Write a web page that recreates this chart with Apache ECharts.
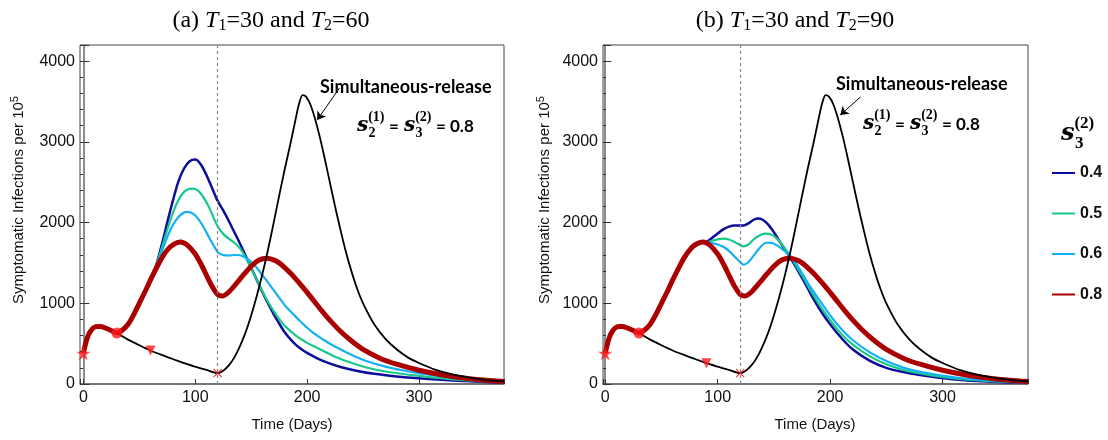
<!DOCTYPE html>
<html><head><meta charset="utf-8">
<script src="https://cdn.jsdelivr.net/npm/echarts@6/dist/echarts.min.js"></script>
<style>html,body{margin:0;padding:0;background:#fff}#c{width:1108px;height:440px}</style>
</head><body><div id="c"></div>
<script>
// ---- data (time in days, symptomatic infections per 1e5) ----
const legendNames = ['0.4', '0.5', '0.6', '0.8'];
const xTicks = [0, 100, 200, 300];
const yTicks = [0, 1000, 2000, 3000, 4000];
// s = 0.8 curve (identical in both panels)
const red08 = [[0,380],[2,500],[4,590],[6,645],[9,695],[12,712],[15,712],[20,692],[25,662],[30,632],[35,670],[40,740],[45,860],[50,1000],[55,1140],[60,1290],[65,1430],[70,1560],[75,1660],[80,1725],[87,1760],[93,1720],[100,1610],[105,1490],[110,1350],[115,1210],[120,1110],[124,1090],[130,1140],[140,1300],[150,1460],[157,1535],[164,1558],[170,1538],[175,1500],[180,1443],[185,1375],[190,1300],[195,1220],[200,1135],[205,1048],[210,960],[215,875],[220,795],[230,650],[240,530],[250,430],[265,320],[280,245],[300,170],[320,115],[340,75],[360,46],[376,30]];
// simultaneous release
const simRelease = [[30,632],[40,550],[50,480],[60,415],[70,360],[80,310],[90,258],[100,215],[110,175],[120,135],[125,165],[130,230],[135,330],[140,470],[145,640],[150,850],[155,1090],[160,1360],[165,1660],[170,1990],[175,2330],[180,2660],[185,2970],[190,3300],[193,3480],[196,3580],[199,3560],[203,3460],[207,3290],[211,3080],[215,2840],[220,2520],[225,2200],[230,1900],[235,1620],[240,1380],[245,1170],[250,1000],[260,740],[270,560],[280,430],[290,330],[300,260],[315,175],[330,118],[345,80],[360,52],[376,33]];
// panel (a) T1=30, T2=60
const a04 = [[60,1290],[65,1470],[70,1720],[75,2000],[80,2270],[85,2510],[90,2670],[95,2760],[100,2780],[105,2720],[110,2590],[115,2430],[120,2270],[125,2150],[130,2020],[135,1880],[140,1740],[145,1590],[150,1440],[155,1290],[160,1140],[165,1000],[170,870],[175,750],[180,640],[185,555],[190,485],[195,430],[200,385],[210,312],[220,255],[230,210],[245,162],[260,126],[280,94],[300,70],[330,43],[376,16]];
const a05 = [[60,1290],[65,1465],[70,1680],[75,1910],[80,2120],[85,2280],[90,2380],[95,2418],[98,2420],[103,2390],[108,2300],[113,2170],[118,2010],[121,1930],[125,1860],[130,1800],[135,1750],[140,1680],[145,1570],[150,1430],[155,1290],[160,1150],[165,1020],[170,905],[175,805],[180,720],[190,600],[200,510],[210,440],[224,345],[240,260],[253,205],[270,155],[300,100],[330,58],[376,21]];
const a06 = [[60,1290],[65,1455],[70,1640],[75,1820],[80,1970],[85,2070],[90,2125],[93,2133],[98,2110],[103,2040],[108,1930],[113,1800],[118,1680],[121,1620],[125,1598],[130,1592],[135,1598],[140,1595],[145,1565],[150,1515],[155,1440],[160,1350],[165,1260],[170,1165],[175,1070],[181,960],[188,860],[194,775],[205,640],[215,545],[224,470],[240,360],[253,285],[270,215],[285,170],[301,132],[330,78],[376,22]];
// panel (b) T1=30, T2=90
const b04 = [[90,1755],[95,1810],[100,1865],[105,1915],[110,1950],[115,1965],[120,1965],[124,1968],[128,1995],[132,2035],[136,2050],[140,2035],[145,1975],[150,1880],[155,1770],[160,1660],[164,1580],[170,1440],[176,1290],[183,1110],[191,920],[200,740],[210,570],[220,430],[235,290],[250,200],[265,148],[280,112],[309,60],[340,32],[376,14]];
const b05 = [[90,1755],[95,1775],[100,1792],[105,1800],[110,1790],[115,1760],[120,1720],[123,1705],[127,1725],[132,1790],[137,1840],[142,1862],[147,1855],[152,1810],[158,1715],[164,1596],[170,1460],[176,1320],[183,1150],[191,970],[200,790],[210,620],[220,490],[235,345],[250,245],[265,175],[280,132],[309,72],[340,38],[376,16]];
const b06 = [[90,1755],[95,1745],[100,1728],[105,1700],[110,1650],[115,1580],[120,1510],[123,1478],[127,1505],[132,1590],[137,1680],[143,1750],[148,1748],[153,1715],[158,1665],[164,1596],[170,1485],[176,1350],[183,1190],[191,1030],[200,850],[210,680],[220,545],[235,395],[250,285],[265,205],[280,152],[309,86],[340,45],[376,18]];
// event markers
const startPt = [[0,380]];
const t1Pt = [[30,632]];
const t2PtA = [[60,415]];
const t2PtB = [[90,258]];
const releasePt = [[120,135]];
const releaseDay = 120;
const arrowA = [[229,3668],[209,3271]];
const arrowB = [[227,3556],[209,3333]];

// ---- styles ----
const COL = {'0.4':'#0d0d9c','0.5':'#19c98a','0.6':'#12b0f5','0.8':'#aa0000'};
const WID = {'0.4':2.5,'0.5':2.2,'0.6':2.2,'0.8':5};
const SANS = 'Liberation Sans';
const STAR = 'path://M50,0 L61,35 L98,35 L68,57 L79,91 L50,70 L21,91 L32,57 L2,35 L39,35 Z';
const XMARK = 'path://M0,2 L2,0 L10,8 L18,0 L20,2 L12,10 L20,18 L18,20 L10,12 L2,20 L0,18 L8,10 Z';

const grids = [
  {left:80, top:45, width:424, height:339, show:true, borderColor:'#444', borderWidth:1},
  {left:603, top:45, width:425, height:339, show:true, borderColor:'#444', borderWidth:1}
];
const xMin = [-3, -2];
const xAxes = grids.map((g,i)=>({
  type:'value', gridIndex:i, min:xMin[i], max:376, splitNumber:4,
  axisLine:{show:true, lineStyle:{color:'#666', width:1.5}},
  axisTick:{show:true, inside:true, length:5, lineStyle:{color:'#333'}},
  axisLabel:{fontSize:16, color:'#111', fontFamily:SANS, margin:6,
    formatter:v=> xTicks.indexOf(Math.round(v))>=0 && Math.abs(v-Math.round(v))<1e-6 ? String(Math.round(v)) : ''},
  splitLine:{show:false}
}));
const yAxes = [];
grids.forEach((g,i)=>{
  yAxes.push({type:'value', gridIndex:i, min:0, max:4200, interval:1000, position:'left',
    axisLine:{show:true, lineStyle:{color:'#666', width:1.5}},
    axisTick:{show:true, inside:true, length:6, lineStyle:{color:'#333'}},
    axisLabel:{fontSize:16, color:'#111', fontFamily:SANS, margin:5,
      formatter:v=> yTicks.indexOf(v)>=0 ? String(v) : ''},
    splitLine:{show:false}});
  yAxes.push({type:'value', gridIndex:i, min:0, max:4200, interval:200, position:'left', offset:0,
    axisLine:{show:false}, axisLabel:{show:false}, splitLine:{show:false},
    axisTick:{show:true, inside:true, length:3, lineStyle:{color:'#333'}}});
});

const series = [];
const panels = [
  {c:{'0.4':a04,'0.5':a05,'0.6':a06}, t2:t2PtA, arrow:arrowA},
  {c:{'0.4':b04,'0.5':b05,'0.6':b06}, t2:t2PtB, arrow:arrowB}
];
const SM = 0.3;
panels.forEach((p,i)=>{
  const ax = {xAxisIndex:i, yAxisIndex:2*i};
  ['0.4','0.5','0.6'].forEach(n=>{
    series.push(Object.assign({type:'line', name:n, data:p.c[n], symbol:'none', smooth:SM,
      lineStyle:{color:COL[n], width:WID[n]}, itemStyle:{color:COL[n]}, z:3}, ax));
  });
  series.push(Object.assign({type:'line', name:'0.8', data:red08, symbol:'none', smooth:SM,
    lineStyle:{color:COL['0.8'], width:WID['0.8']}, itemStyle:{color:COL['0.8']}, z:4}, ax));
  series.push(Object.assign({type:'line', name:'sim', data:simRelease, symbol:'none', smooth:SM,
    lineStyle:{color:'#000', width:1.8}, z:5,
    markLine:{silent:true, symbol:'none', label:{show:false},
      lineStyle:{type:[3,3], color:'#888', width:1.2},
      data:[{xAxis:releaseDay}]}}, ax));
  series.push(Object.assign({type:'line', name:'arrow', data:[], z:6,
    markLine:{silent:true, symbol:['none','arrow'], symbolSize:8, label:{show:false},
      lineStyle:{type:'solid', color:'#000', width:1},
      data:[[{coord:p.arrow[0]},{coord:p.arrow[1]}]]}}, ax));
  const mk = (data, symbol, size, rot)=>Object.assign({type:'scatter', name:'mk', data:data, symbol:symbol,
    symbolSize:size, symbolRotate:rot||0, itemStyle:{color:'#ff1a1a'}, z:10}, ax);
  series.push(mk(startPt, STAR, 14));
  series.push(mk(t1Pt, 'circle', 11));
  series.push(mk(p.t2, 'triangle', 10, 180));
  series.push(mk(releasePt, XMARK, 9));
});

// ---- text graphics ----
function title(x, label, t2) {
  return {type:'text', x:x, y:21, style:{
    text:'{a|('+label+') }{i|T}{s|1}{a|=30 and }{i|T}{s|2}{a|='+t2+'}',
    align:'center', verticalAlign:'middle', fill:'#000',
    rich:{a:{fontFamily:'Liberation Serif', fontSize:24, lineHeight:26, verticalAlign:'middle'},
          i:{fontFamily:'Liberation Serif', fontStyle:'italic', fontSize:24, lineHeight:26, verticalAlign:'middle'},
          s:{fontFamily:'Liberation Serif', fontSize:16, lineHeight:14, verticalAlign:'bottom'}}}};
}
function yName(x) {
  return {type:'text', x:x, y:200, rotation:Math.PI/2, style:{
    text:'{a|Symptomatic Infections per 10}{s|5}', align:'center', verticalAlign:'middle', fill:'#111',
    rich:{a:{fontFamily:SANS, fontSize:15, lineHeight:20, verticalAlign:'middle'},
          s:{fontFamily:SANS, fontSize:11, lineHeight:10, verticalAlign:'top'}}}};
}
function xName(x) {
  return {type:'text', x:x, y:425, style:{text:'Time (Days)', align:'center', verticalAlign:'middle',
    fill:'#111', font:'15px "Liberation Sans"'}};
}
function sSym(x, y, sup, sub, f) {
  const sf = 'bold '+Math.round(f*0.7)+'px "Liberation Serif"';
  return [
    {type:'text', x:x, y:y, style:{text:'s', font:'italic bold '+f+'px "DejaVu Serif"', fill:'#000', verticalAlign:'middle'}},
    {type:'text', x:x+f*0.56, y:y-f*0.44, style:{text:'('+sup+')', font:sf, fill:'#000', verticalAlign:'middle'}},
    {type:'text', x:x+f*0.58, y:y+f*0.38, style:{text:sub, font:sf, fill:'#000', verticalAlign:'middle'}}
  ];
}
function formula(x, y) {
  const EQ = 'bold 17px Lato';
  return [].concat(
    sSym(x, y, '1', '2', 20),
    [{type:'text', x:x+32, y:y+1, style:{text:'=', font:EQ, fill:'#000', verticalAlign:'middle'}}],
    sSym(x+47, y, '2', '3', 20),
    [{type:'text', x:x+79, y:y+1, style:{text:'= 0.8', font:EQ, fill:'#000', verticalAlign:'middle'}}]
  );
}
function simLabel(x, y) {
  return {type:'text', x:x, y:y, style:{text:'Simultaneous-release', font:'bold 18px Lato', fill:'#000', verticalAlign:'middle'}};
}
const graphics = [
  title(271, 'a', '60'), title(795, 'b', '90'),
  yName(19), yName(545), xName(292), xName(815),
  simLabel(320, 87), simLabel(836, 84)
].concat(formula(357, 126), formula(863, 124), sSym(1061, 134, '2', '3', 24));

const chart = echarts.init(document.getElementById('c'), null, {renderer:'canvas'});
chart.setOption({
  animation:false,
  backgroundColor:'#fff',
  grid:grids, xAxis:xAxes, yAxis:yAxes, series:series,
  legend:{data:legendNames, orient:'vertical', left:1046, top:160, itemWidth:23, itemHeight:14, itemGap:24.5,
    itemStyle:{opacity:0},
    textStyle:{fontFamily:SANS, fontWeight:'bold', fontSize:16, color:'#111'}, selectedMode:false},
  graphic:graphics
});
</script></body></html>
